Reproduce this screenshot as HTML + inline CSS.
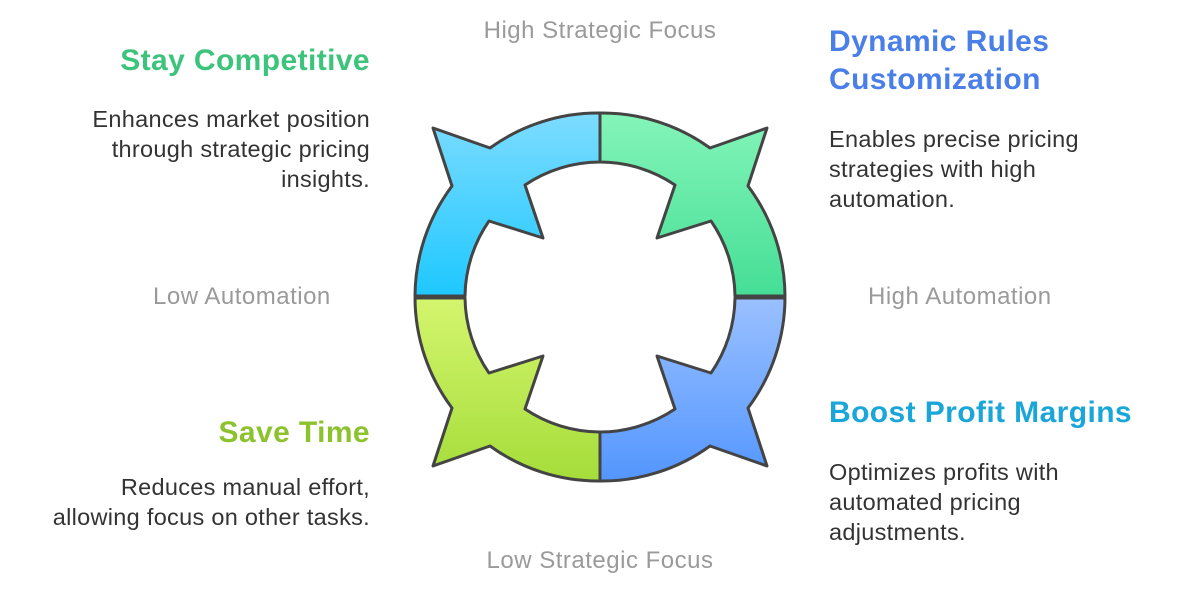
<!DOCTYPE html>
<html><head><meta charset="utf-8"><style>
body{margin:0;width:1200px;height:598px;background:#fff;position:relative;overflow:hidden;font-family:"Liberation Sans",sans-serif}
.t{position:absolute;font-weight:bold;font-size:30px;letter-spacing:0.4px;line-height:38px}
.b{position:absolute;font-size:23.5px;letter-spacing:0.3px;line-height:30px;color:#333}
.a{position:absolute;font-size:24px;letter-spacing:0.5px;color:#9a9a9a;line-height:26px}
.r{text-align:right}
</style></head><body>
<svg width="1200" height="598" style="position:absolute;left:0;top:0">
<defs>
<linearGradient id="g1" x1="0" y1="0" x2="0" y2="1"><stop offset="0" stop-color="#7ddcff"/><stop offset="1" stop-color="#1ec8ff"/></linearGradient>
<linearGradient id="g2" x1="0" y1="0" x2="0" y2="1"><stop offset="0" stop-color="#84f5b8"/><stop offset="1" stop-color="#45de96"/></linearGradient>
<linearGradient id="g3" x1="0" y1="0" x2="0" y2="1"><stop offset="0" stop-color="#a5dd3a"/><stop offset="1" stop-color="#d4f56e"/></linearGradient>
<linearGradient id="g4" x1="0" y1="0" x2="0" y2="1"><stop offset="0" stop-color="#5396ff"/><stop offset="1" stop-color="#9ac0ff"/></linearGradient>
<path id="q" d="M600,113 A184,184 0 0 0 490,148 L433,128 L452,186 A185,185 0 0 0 415,296 L465,296 A135,135 0 0 1 489,221 L543,238 L525,185 A135,135 0 0 1 600,162 Z" stroke="#444" stroke-width="3" stroke-linejoin="round"/>
</defs>
<use href="#q" fill="url(#g1)"/>
<use href="#q" fill="url(#g2)" transform="translate(1200,0) scale(-1,1)"/>
<use href="#q" fill="url(#g3)" transform="translate(0,594) scale(1,-1)"/>
<use href="#q" fill="url(#g4)" transform="translate(1200,594) scale(-1,-1)"/>
</svg>
<div class="t r" style="right:830px;top:42px;color:#3cc47c">Stay Competitive</div>
<div class="b r" style="right:830px;top:104px">Enhances market position<br>through strategic pricing<br>insights.</div>
<div class="t" style="left:829px;top:23px;color:#4a7fe8">Dynamic Rules<br>Customization</div>
<div class="b" style="left:829px;top:124px">Enables precise pricing<br>strategies with high<br>automation.</div>
<div class="t r" style="right:830px;top:414px;color:#8dc22f">Save Time</div>
<div class="b r" style="right:830px;top:472px">Reduces manual effort,<br>allowing focus on other tasks.</div>
<div class="t" style="left:829px;top:394px;color:#1aa6d8">Boost Profit Margins</div>
<div class="b" style="left:829px;top:457px">Optimizes profits with<br>automated pricing<br>adjustments.</div>
<div class="a" style="left:0;width:1200px;text-align:center;top:18px">High Strategic Focus</div>
<div class="a" style="left:0;width:1200px;text-align:center;top:548px">Low Strategic Focus</div>
<div class="a" style="left:153px;top:284px">Low Automation</div>
<div class="a" style="left:868px;top:284px">High Automation</div>
</body></html>
